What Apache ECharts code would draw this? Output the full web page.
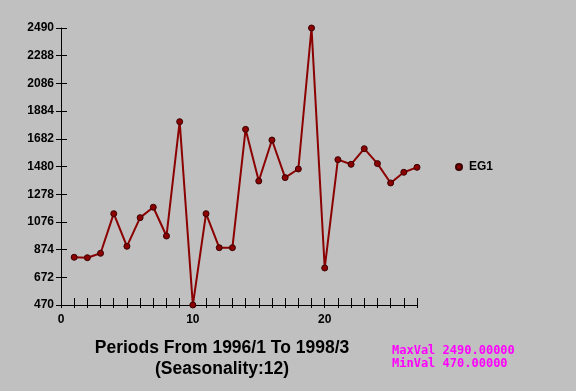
<!DOCTYPE html>
<html><head><meta charset="utf-8">
<script src="https://cdn.jsdelivr.net/npm/echarts@6/dist/echarts.min.js"></script>
<style>html,body{margin:0;padding:0;background:#c0c0c0}#c{width:576px;height:391px}</style>
</head><body><div id="c"></div>
<script>
const periods = [1,2,3,4,5,6,7,8,9,10,11,12,13,14,15,16,17,18,19,20,21,22,23,24,25,26,27];
const eg1 = [818,815,847,1136,898,1107,1183,973,1807,470,1136,888,888,1751,1374,1673,1399,1462,2490,740,1530,1496,1610,1501,1360,1438,1474];
const yTicks = [470,672,874,1076,1278,1480,1682,1884,2086,2288,2490];
const xLabels = [0,10,20];
const seriesName = 'EG1';
const titleLines = ['Periods From 1996/1 To 1998/3','(Seasonality:12)'];
const statLines = ['MaxVal 2490.00000','MinVal 470.00000'];

const chart = echarts.init(document.getElementById('c'));
const axisLine = {show:true, lineStyle:{color:'#000', width:1}};
const labelFont = {fontFamily:'Liberation Sans, Arial, sans-serif', fontWeight:'bold', fontSize:12, color:'#000'};
chart.setOption({
  backgroundColor:'#c0c0c0',
  animation:false,
  grid:{left:61, right:159, top:28, bottom:86},
  legend:{
    data:[{name:seriesName, icon:'circle'}],
    left:455, top:161, itemWidth:6, itemHeight:6, itemGap:6, padding:0,
    textStyle:Object.assign({}, labelFont, {padding:[0,0,0,2]})
  },
  xAxis:[{
    type:'value', min:0, max:27, interval:1,
    axisLine:axisLine, splitLine:{show:false},
    axisTick:{show:true, inside:true, length:7, lineStyle:{color:'#000'}},
    axisLabel:Object.assign({}, labelFont, {margin:9, showMinLabel:true,
      formatter:v => xLabels.indexOf(v) >= 0 ? String(v) : ''})
  },{
    type:'value', min:0, max:27, interval:1, position:'bottom',
    axisLine:{show:false}, splitLine:{show:false},
    axisTick:{show:true, inside:false, length:3, lineStyle:{color:'#000'}},
    axisLabel:{show:false}
  }],
  yAxis:[{
    type:'value', min:yTicks[0], max:yTicks[yTicks.length-1], interval:yTicks[1]-yTicks[0],
    axisLine:axisLine, splitLine:{show:false},
    axisTick:{show:true, inside:false, length:5, lineStyle:{color:'#000'}},
    axisLabel:Object.assign({}, labelFont, {margin:7, formatter:v => String(Math.round(v))})
  },{
    type:'value', min:yTicks[0], max:yTicks[yTicks.length-1], interval:yTicks[1]-yTicks[0], position:'left',
    axisLine:{show:false}, splitLine:{show:false},
    axisTick:{show:true, inside:true, length:6, lineStyle:{color:'#000'}},
    axisLabel:{show:false}
  }],
  series:[{
    name:seriesName, type:'line',
    data:periods.map((p,i)=>[p, eg1[i]]),
    symbol:'circle', symbolSize:6,
    lineStyle:{color:'#8b0000', width:2},
    itemStyle:{color:'#8b0000', borderColor:'#3a0000', borderWidth:1}
  }],
  graphic:[
    {type:'text', style:{text:titleLines[0], x:222, y:348, align:'center', verticalAlign:'middle',
      font:'bold 17.5px "Liberation Sans", Arial, sans-serif', fill:'#000'}},
    {type:'text', style:{text:titleLines[1], x:222, y:369, align:'center', verticalAlign:'middle',
      font:'bold 17.5px "Liberation Sans", Arial, sans-serif', fill:'#000'}},
    {type:'text', style:{text:statLines[0], x:392, y:351, align:'left', verticalAlign:'middle',
      font:'bold 12px "DejaVu Sans Mono", monospace', fill:'#ff00ff'}},
    {type:'text', style:{text:statLines[1], x:392, y:364, align:'left', verticalAlign:'middle',
      font:'bold 12px "DejaVu Sans Mono", monospace', fill:'#ff00ff'}}
  ]
});
</script></body></html>
